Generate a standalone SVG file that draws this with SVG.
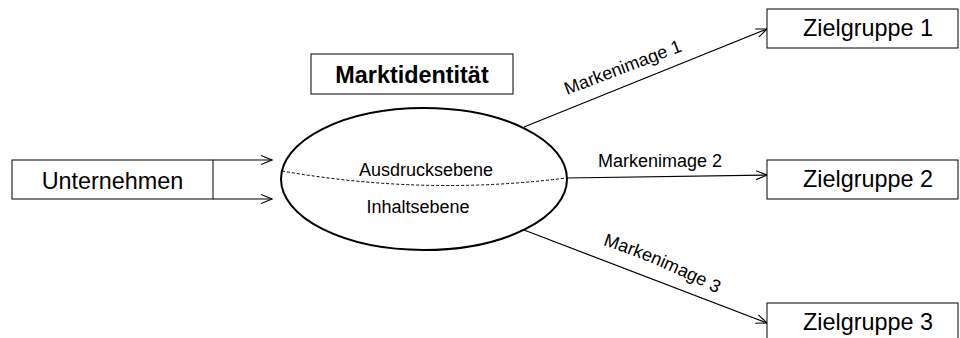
<svg xmlns="http://www.w3.org/2000/svg" width="960" height="338" viewBox="0 0 960 338">
  <style>
    .box { fill: #fff; stroke: #000; stroke-width: 1; }
    .lbl { font-family: "Liberation Sans", Arial, sans-serif; fill: #000; }
    .big { font-size: 23.4px; }
    .small { font-size: 18px; }
    .conn { stroke: #000; stroke-width: 1.2; fill: none; marker-end: url(#open); }
  </style>
  <defs>
    <marker id="open" markerWidth="12" markerHeight="10" refX="11" refY="5" orient="auto" markerUnits="userSpaceOnUse">
      <path d="M0,0.5 L11,5 L0,9.5" fill="none" stroke="#000" stroke-width="1.1"/>
    </marker>
    <path id="arc3" d="M603,245 Q655,262 716,293"/>
  </defs>
  <rect width="960" height="338" fill="#fff"/>

  <g id="connectors">
    <line class="conn" x1="213" y1="160" x2="272" y2="160"/>
    <line class="conn" x1="213" y1="199" x2="272" y2="199"/>
    <line class="conn" x1="524" y1="127" x2="767" y2="29"/>
    <line class="conn" x1="566" y1="178" x2="767" y2="175"/>
    <line class="conn" x1="524" y1="230" x2="767" y2="323"/>
    <text class="lbl small" transform="translate(567,95) rotate(-20.8)">Markenimage 1</text>
    <text class="lbl small" x="598" y="167">Markenimage 2</text>
    <text class="lbl small"><textPath href="#arc3">Markenimage 3</textPath></text>
  </g>

  <g id="unternehmen">
    <rect class="box" x="12" y="160" width="201" height="39"/>
    <text class="lbl big" x="112.5" y="189" text-anchor="middle">Unternehmen</text>
  </g>

  <g id="marktidentitaet">
    <rect class="box" x="311" y="54" width="202" height="40"/>
    <text class="lbl big" x="412" y="83" text-anchor="middle" font-weight="bold">Marktidentität</text>
  </g>

  <g id="identitaet-ellipse">
    <ellipse cx="424" cy="179" rx="143" ry="71" fill="#fff" stroke="#000" stroke-width="2"/>
    <path d="M282,171 Q425,196 566,178" fill="none" stroke="#000" stroke-width="1" stroke-dasharray="3,2"/>
    <text class="lbl small" x="426" y="176" text-anchor="middle">Ausdrucksebene</text>
    <text class="lbl small" x="418" y="213" text-anchor="middle">Inhaltsebene</text>
  </g>

  <g id="zielgruppe1">
    <rect class="box" x="767" y="9" width="191" height="39"/>
    <text class="lbl big" x="868" y="36" text-anchor="middle">Zielgruppe 1</text>
  </g>

  <g id="zielgruppe2">
    <rect class="box" x="767" y="160" width="191" height="39"/>
    <text class="lbl big" x="868" y="187" text-anchor="middle">Zielgruppe 2</text>
  </g>

  <g id="zielgruppe3">
    <rect class="box" x="767" y="303" width="191" height="40"/>
    <text class="lbl big" x="868" y="330" text-anchor="middle">Zielgruppe 3</text>
  </g>
</svg>
